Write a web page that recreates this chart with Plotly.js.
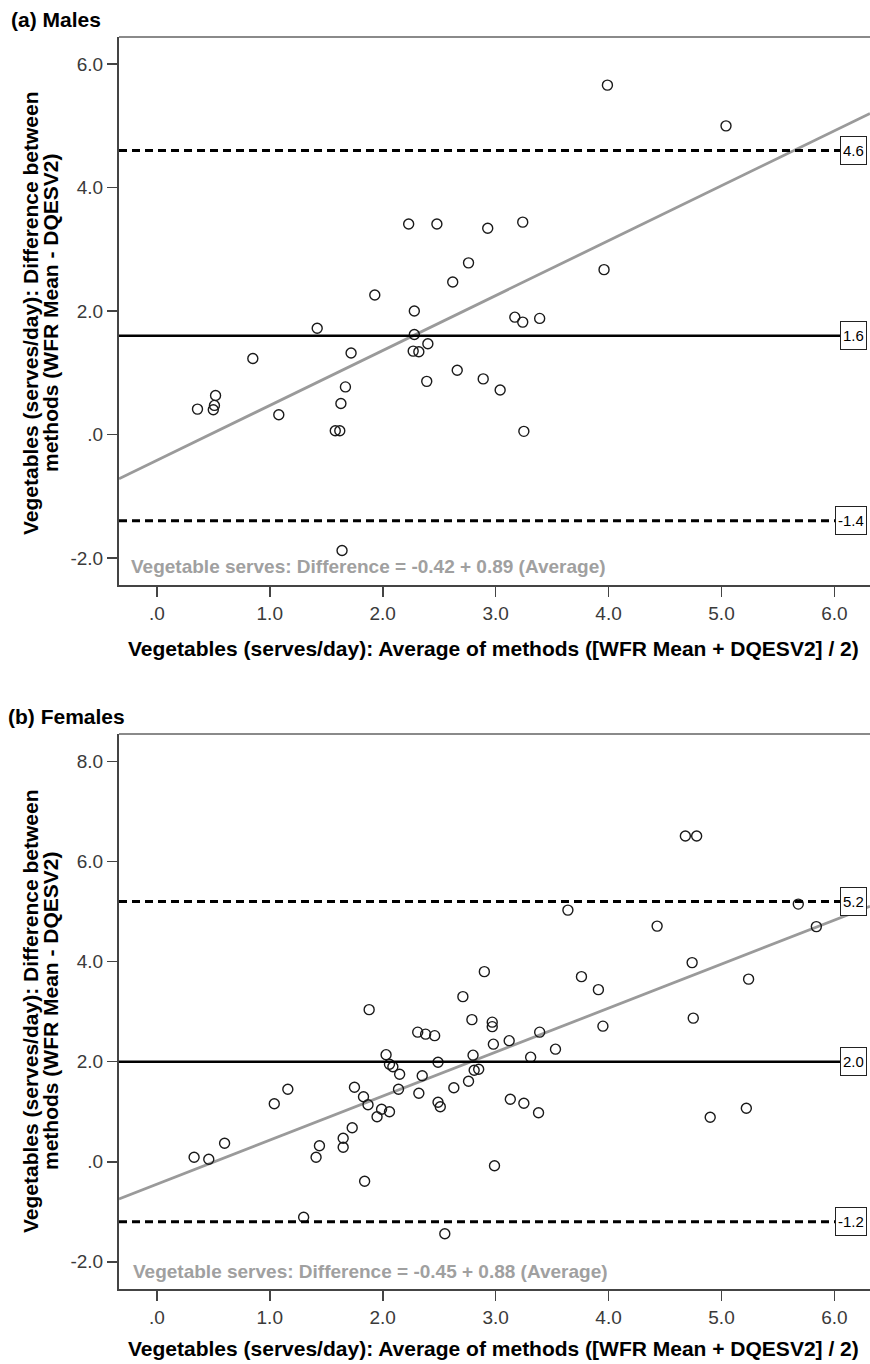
<!DOCTYPE html>
<html>
<head>
<meta charset="utf-8">
<script src="https://cdn.plot.ly/plotly-3.0.1.min.js"></script>
<style>html,body{margin:0;padding:0;background:#fff;}#chart{width:870px;height:1364px;}</style>
</head>
<body>
<div id="chart"></div>
<script>
// ---- Data ----
var maleAvg  = [0.36,0.50,0.51,0.52,0.85,1.08,1.42,1.58,1.62,1.63,1.67,1.64,1.72,1.93,2.23,2.28,2.28,2.27,2.32,2.40,2.39,2.48,2.62,2.66,2.76,2.89,2.93,3.04,3.17,3.24,3.24,3.25,3.39,3.96,3.99,5.04];
var maleDiff = [0.41,0.40,0.47,0.63,1.23,0.32,1.72,0.06,0.06,0.50,0.77,-1.88,1.32,2.26,3.41,2.00,1.62,1.35,1.34,1.47,0.86,3.41,2.47,1.04,2.78,0.90,3.34,0.72,1.90,1.82,3.44,0.05,1.88,2.67,5.66,5.00];

var femaleAvg  = [4.68,4.78,3.64,5.68,4.43,5.84,4.74,2.90,3.76,5.24,3.91,2.71,2.79,2.97,2.97,4.75,1.88,3.95,3.53,4.90,5.22,2.31,2.38,2.46,3.39,3.12,2.98,2.03,2.80,3.31,2.49,2.06,2.09,2.15,2.81,2.85,2.35,2.76,1.75,2.63,1.16,2.14,2.32,1.83,3.13,2.49,2.51,3.25,1.04,1.87,3.38,1.99,2.06,1.95,1.73,1.65,1.65,1.44,1.41,0.60,0.33,0.46,2.99,1.84,1.30,2.55];
var femaleDiff = [6.51,6.51,5.03,5.15,4.71,4.70,3.98,3.80,3.70,3.65,3.44,3.30,2.84,2.79,2.70,2.87,3.04,2.71,2.25,0.89,1.07,2.59,2.55,2.52,2.59,2.42,2.35,2.14,2.13,2.09,1.99,1.95,1.90,1.75,1.83,1.85,1.72,1.61,1.49,1.48,1.45,1.45,1.37,1.30,1.25,1.19,1.10,1.17,1.16,1.14,0.98,1.05,1.00,0.90,0.68,0.47,0.29,0.32,0.09,0.37,0.09,0.05,-0.08,-0.39,-1.11,-1.44];

// upper limit, mean, lower limit
var maleLines   = [4.6, 1.6, -1.4];
var femaleLines = [5.2, 2.0, -1.2];
// regression: intercept, slope
var maleFit   = [-0.42, 0.89];
var femaleFit = [-0.45, 0.88];

var xTickVals = [0,1,2,3,4,5,6];
var xTickText = ['.0','1.0','2.0','3.0','4.0','5.0','6.0'];
var y1TickVals = [-2,0,2,4,6];
var y1TickText = ['-2.0','.0','2.0','4.0','6.0'];
var y2TickVals = [-2,0,2,4,6,8];
var y2TickText = ['-2.0','.0','2.0','4.0','6.0','8.0'];

var panelTitles = ['(a) Males','(b) Females'];
var xTitle = 'Vegetables (serves/day): Average of methods ([WFR Mean + DQESV2] / 2)';
var yTitle1 = 'Vegetables (serves/day): Difference between';
var yTitle2 = 'methods (WFR Mean - DQESV2)';

// ---- Layout constants ----
var W = 870, H = 1364;
var FONT = 'Liberation Sans, Arial, sans-serif';
var xRange = [-0.335, 6.315];
var y1Range = [-2.44, 6.44];
var y2Range = [-2.55, 8.55];
function px(x){return x/W;}
function py(y){return 1 - y/H;}

function fitLine(fit, xa, ya){
  var xs = [xRange[0], xRange[1]];
  return {x: xs, y: xs.map(function(v){return fit[0] + fit[1]*v;}), xaxis: xa, yaxis: ya,
    mode:'lines', line:{color:'#9a9a9a', width:2.8}, hoverinfo:'skip', cliponaxis:true};
}
function pts(xs, ys, xa, ya){
  return {x: xs, y: ys, xaxis: xa, yaxis: ya, mode:'markers', type:'scatter',
    marker:{symbol:'circle-open', size:10, color:'#1a1a1a', line:{width:1.4, color:'#1a1a1a'}}};
}

var traces = [
  fitLine(maleFit,'x','y'), pts(maleAvg, maleDiff,'x','y'),
  fitLine(femaleFit,'x2','y2'), pts(femaleAvg, femaleDiff,'x2','y2')
];

var shapes = [];
var annotations = [];
function refLines(vals, xa, ya){
  vals.forEach(function(v, i){
    shapes.push({type:'line', xref: xa+' domain', yref: ya, x0:0, x1:0.995, y0:v, y1:v,
      line:{color:'#000', width: i===1 ? 2.6 : 3, dash: i===1 ? 'solid' : '8px,5px'}});
    annotations.push({xref:'paper', yref: ya, x: px(867), y: v, xanchor:'right', yanchor:'middle',
      text: v.toFixed(1), showarrow:false, font:{family:FONT, size:15, color:'#000'},
      bgcolor:'#fff', bordercolor:'#222', borderwidth:1, borderpad:2, height:23});
  });
  // top frame line
  shapes.push({type:'line', xref: xa+' domain', yref: ya+' domain', x0:0, x1:1, y0:1, y1:1,
    line:{color:'#8a8a8a', width:2}});
}
refLines(maleLines,'x','y');
refLines(femaleLines,'x2','y2');

function eqText(fit){
  return 'Vegetable serves: Difference = ' + fit[0].toFixed(2) + ' + ' + fit[1].toFixed(2) + ' (Average)';
}
annotations.push({xref:'paper', yref:'paper', x:px(129), y:py(566), xanchor:'left', yanchor:'middle',
  text:'<b>'+eqText(maleFit)+'</b>', showarrow:false, font:{family:FONT, size:19, color:'#a0a0a0'}});
annotations.push({xref:'paper', yref:'paper', x:px(131), y:py(1271), xanchor:'left', yanchor:'middle',
  text:'<b>'+eqText(femaleFit)+'</b>', showarrow:false, font:{family:FONT, size:19, color:'#a0a0a0'}});

// panel titles
annotations.push({xref:'paper', yref:'paper', x:px(9), y:py(20), xanchor:'left', yanchor:'middle',
  text:'<b>'+panelTitles[0]+'</b>', showarrow:false, font:{family:FONT, size:21, color:'#000'}});
annotations.push({xref:'paper', yref:'paper', x:px(6), y:py(716), xanchor:'left', yanchor:'middle',
  text:'<b>'+panelTitles[1]+'</b>', showarrow:false, font:{family:FONT, size:21, color:'#000'}});

// axis titles
[[648, 313],[1348, 1011]].forEach(function(p){
  annotations.push({xref:'paper', yref:'paper', x:px(494), y:py(p[0]), xanchor:'center', yanchor:'middle',
    text:'<b>'+xTitle+'</b>', showarrow:false, font:{family:FONT, size:21, color:'#000'}});
  annotations.push({xref:'paper', yref:'paper', x:px(30), y:py(p[1]), xanchor:'center', yanchor:'middle',
    textangle:-90, text:'<b>'+yTitle1+'</b>', showarrow:false, font:{family:FONT, size:21, color:'#000'}});
  annotations.push({xref:'paper', yref:'paper', x:px(50), y:py(p[1]), xanchor:'center', yanchor:'middle',
    textangle:-90, text:'<b>'+yTitle2+'</b>', showarrow:false, font:{family:FONT, size:21, color:'#000'}});
});

function xAxis(anchor){
  return {domain:[px(119), 1], range:xRange, anchor:anchor, tickvals:xTickVals, ticktext:xTickText,
    ticks:'outside', ticklen:10, tickwidth:1.6, tickcolor:'#444', showgrid:false, zeroline:false,
    showline:true, linecolor:'#444', linewidth:2, tickfont:{family:FONT, size:19, color:'#3a3a3a'},
    fixedrange:true};
}
function yAxis(anchor, dom, rng, tv, tt){
  return {domain:dom, range:rng, anchor:anchor, tickvals:tv, ticktext:tt,
    ticks:'outside', ticklen:10, tickwidth:1.6, tickcolor:'#444', showgrid:false, zeroline:false,
    showline:true, linecolor:'#444', linewidth:2, tickfont:{family:FONT, size:19, color:'#3a3a3a'},
    fixedrange:true};
}

var layout = {
  width:W, height:H, margin:{l:0,r:0,t:0,b:0}, paper_bgcolor:'#fff', plot_bgcolor:'#fff',
  showlegend:false,
  xaxis: xAxis('y'),
  yaxis: yAxis('x', [py(585), py(37)], y1Range, y1TickVals, y1TickText),
  xaxis2: xAxis('y2'),
  yaxis2: yAxis('x2', [py(1289.3), py(734)], y2Range, y2TickVals, y2TickText),
  shapes: shapes, annotations: annotations
};

Plotly.newPlot('chart', traces, layout, {staticPlot:true, displayModeBar:false});
</script>
</body>
</html>
